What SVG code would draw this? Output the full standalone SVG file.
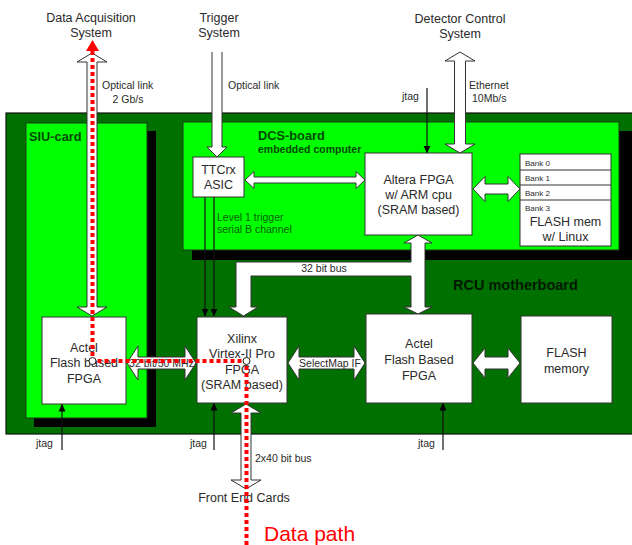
<svg xmlns="http://www.w3.org/2000/svg" width="632" height="545" viewBox="0 0 632 545">
<style>
text{font-family:"Liberation Sans",Arial,sans-serif;fill:#2a2a2a}
.t12{font-size:12.5px}
.t10{font-size:10.5px}
.t8{font-size:8px}
.c{text-anchor:middle}
.box{fill:#fff;stroke:#333;stroke-width:1}
.board{fill:#00ff00;stroke:#1a3a1a;stroke-width:1}
.shadow{fill:#000}
.hollow{fill:#fff;stroke:#333;stroke-width:1}
.wire{stroke:#111;stroke-width:1.2;fill:none;marker-end:url(#ah)}
.bold{font-weight:bold}
.dg{fill:#004a00}
.red{stroke:#ff0000;stroke-width:4;stroke-dasharray:4 3;fill:none}
</style>
<defs>
<marker id="ah" markerWidth="8" markerHeight="8" refX="7.5" refY="4" orient="auto" markerUnits="userSpaceOnUse"><path d="M0,0.5 L8,4 L0,7.5 z" fill="#000"/></marker>
</defs>
<rect width="632" height="545" fill="#fff"/>
<g id="rcu-motherboard">
<rect x="6" y="113" width="640" height="321" fill="#007000" stroke="#111" stroke-width="1.2"/>
<text x="453" y="290" class="bold" style="font-size:14.5px;fill:#001a00">RCU motherboard</text>
</g>
<g id="siu-card">
<rect class="shadow" x="34" y="131" width="122" height="296"/>
<rect class="board" x="26" y="123" width="121" height="295"/>
<text x="29" y="141" class="bold dg" style="font-size:12.8px">SIU-card</text>
</g>
<g id="dcs-board">
<rect class="shadow" x="192" y="131" width="445" height="129"/>
<rect class="board" x="183" y="122" width="436" height="128"/>
<text x="258" y="140" class="bold dg" style="font-size:12.8px">DCS-board</text>
<text x="258" y="153" class="bold dg" style="font-size:10.5px">embedded computer</text>
</g>
<g id="connectors">
<path class="hollow" d="M92,53 L107,62 L97,62 L97,307 L107,307 L92,316 L77,307 L87,307 L87,62 L77,62 Z"/>
<text x="102" y="89" class="t10">Optical link</text>
<text x="128" y="103" class="t10 c">2 Gb/s</text>
<path class="hollow" d="M212,52 L212,147 L207,147 L217,157 L227,147 L222,147 L222,52"/>
<text x="228" y="89" class="t10">Optical link</text>
<path class="hollow" d="M460,52 L475,61 L465.5,61 L465.5,144 L475,144 L460,153 L445,144 L454.5,144 L454.5,61 L445,61 Z"/>
<text x="469" y="89" class="t10">Ethernet</text>
<text x="472" y="102" class="t10">10Mb/s</text>
<line class="wire" x1="427" y1="88" x2="427" y2="153"/>
<text x="402" y="100" class="t10">jtag</text>
<path class="hollow" d="M245,180 L254,171.5 L254,177 L356,177 L356,171.5 L365,180 L356,188.5 L356,183 L254,183 L254,188.5 Z"/>
<path class="hollow" d="M473,189 L485,176.5 L485,184 L508,184 L508,176.5 L520,189 L508,201.5 L508,194 L485,194 L485,201.5 Z"/>
<line class="wire" x1="205" y1="197" x2="205" y2="316"/>
<line class="wire" x1="214" y1="197" x2="214" y2="316"/>
<text x="217" y="221" class="t10" style="fill:#006000">Level 1 trigger</text>
<text x="217" y="233" class="t10" style="fill:#006000">serial B channel</text>
<path class="hollow" d="M418,235 L432,243 L425,243 L425,307 L432,307 L418,314 L404,307 L411,307 L411,276 L251,276 L251,307 L258,307 L243.5,316 L229,307 L236,307 L236,262 L411,262 L411,243 L404,243 Z"/>
<text x="324" y="272" class="t10 c">32 bit bus</text>
<path class="hollow" d="M127,363 L138,346 L138,357 L185,357 L185,346 L196,363 L185,380 L185,369 L138,369 L138,380 Z"/>
<text x="161.5" y="367" class="t10 c">32 bit/50 MHz</text>
<path class="hollow" d="M288,363 L299,346 L299,357 L354,357 L354,346 L365,363 L354,380 L354,369 L299,369 L299,380 Z"/>
<text x="330" y="367" class="t10 c">SelectMap IF</text>
<path class="hollow" d="M473,363 L485,348 L485,357 L508,357 L508,348 L520,363 L508,378 L508,369 L485,369 L485,378 Z"/>
<path class="hollow" d="M246,404 L261,413 L251,413 L251,480 L261,480 L246,489 L231,480 L241,480 L241,413 L231,413 Z"/>
<text x="255" y="462" class="t10">2x40 bit bus</text>
<line class="wire" x1="62" y1="450" x2="62" y2="404"/>
<text x="36" y="447" class="t10">jtag</text>
<line class="wire" x1="214" y1="450" x2="214" y2="403"/>
<text x="190" y="447" class="t10">jtag</text>
<line class="wire" x1="443" y1="450" x2="443" y2="403"/>
<text x="418" y="447" class="t10">jtag</text>
</g>
<g id="data-acquisition-system">
<text x="91" y="22" class="t12 c">Data Acquisition</text>
<text x="91" y="37" class="t12 c">System</text>
</g>
<g id="trigger-system">
<text x="219" y="22" class="t12 c">Trigger</text>
<text x="219" y="37" class="t12 c">System</text>
</g>
<g id="detector-control-system">
<text x="460" y="23" class="t12 c">Detector Control</text>
<text x="460" y="38" class="t12 c">System</text>
</g>
<g id="front-end-cards">
<text x="244" y="502" class="t12 c">Front End Cards</text>
</g>
<g id="ttcrx">
<rect class="box" x="193" y="157" width="51" height="40"/>
<text x="218.5" y="174" class="t12 c">TTCrx</text>
<text x="218.5" y="189" class="t12 c">ASIC</text>
</g>
<g id="altera-fpga">
<rect class="box" x="365" y="153" width="107" height="82"/>
<text x="418.5" y="184" class="t12 c">Altera FPGA</text>
<text x="418.5" y="199" class="t12 c">w/ ARM cpu</text>
<text x="418.5" y="214" class="t12 c">(SRAM based)</text>
</g>
<g id="flash-mem-linux">
<rect class="box" x="520" y="154" width="91" height="92"/>
<line x1="520" y1="170" x2="611" y2="170" stroke="#333"/>
<line x1="520" y1="185" x2="611" y2="185" stroke="#333"/>
<line x1="520" y1="200" x2="611" y2="200" stroke="#333"/>
<text x="525" y="166" class="t8">Bank 0</text>
<text x="525" y="181" class="t8">Bank 1</text>
<text x="525" y="196" class="t8">Bank 2</text>
<text x="525" y="211" class="t8">Bank 3</text>
<text x="565.5" y="226" class="t12 c">FLASH mem</text>
<text x="565.5" y="241" class="t12 c">w/ Linux</text>
</g>
<g id="actel-siu">
<rect class="box" x="42" y="317" width="84" height="87"/>
<text x="84" y="352" class="t12 c">Actel</text>
<text x="84" y="367" class="t12 c">Flash based</text>
<text x="84" y="383" class="t12 c">FPGA</text>
</g>
<g id="xilinx-fpga">
<rect class="box" x="197" y="317" width="90" height="86"/>
<text x="242" y="343" class="t12 c">Xilinx</text>
<text x="242" y="358" class="t12 c">Virtex-II Pro</text>
<text x="242" y="374" class="t12 c">FPGA</text>
<text x="242" y="389" class="t12 c">(SRAM based)</text>
</g>
<g id="actel-rcu">
<rect class="box" x="366" y="314" width="106" height="89"/>
<text x="419" y="348" class="t12 c">Actel</text>
<text x="419" y="364" class="t12 c">Flash Based</text>
<text x="419" y="380" class="t12 c">FPGA</text>
</g>
<g id="flash-memory">
<rect class="box" x="521" y="316" width="91" height="87"/>
<text x="566.5" y="357" class="t12 c">FLASH</text>
<text x="566.5" y="373" class="t12 c">memory</text>
</g>
<g id="data-path">
<path class="red" d="M246.5,545 L246.5,361 L92.5,361 L92.5,51"/>
<polygon points="92.5,40 99,51 86,51" fill="#ff0000"/>
<circle cx="92.5" cy="361" r="3.5" fill="#fff" stroke="#222" stroke-width="1"/>
<circle cx="246.5" cy="361" r="3.5" fill="#fff" stroke="#222" stroke-width="1"/>
<text x="264" y="541" style="font-size:21px;fill:#ff0000">Data path</text>
</g>
</svg>
